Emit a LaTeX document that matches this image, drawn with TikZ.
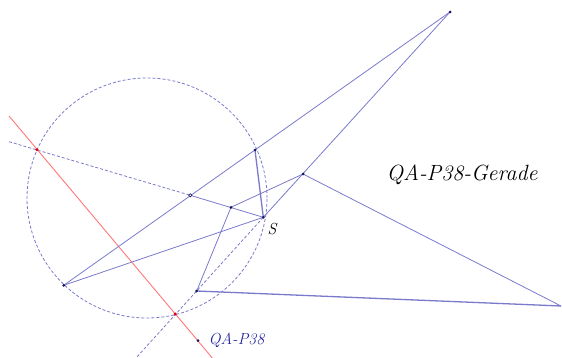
\documentclass[tikz,border=0pt]{standalone}
\usepackage{fontspec}
\begin{document}
\definecolor{ln}{RGB}{122,122,204}
\definecolor{rd}{RGB}{255,120,120}
\definecolor{pt}{RGB}{20,20,90}
\definecolor{lbl}{RGB}{40,40,160}
\begin{tikzpicture}[x=1pt,y=1pt,
  seg/.style={draw=ln,line width=0.8pt},
  thick seg/.style={draw=ln,line width=1.3pt},
  dseg/.style={draw=ln,line width=0.8pt,dash pattern=on 3pt off 2pt},
  redline/.style={draw=rd,line width=0.9pt},
  dot/.style={circle,fill=pt,inner sep=0pt,minimum size=3pt},
  odot/.style={circle,draw=pt,fill=white,line width=0.6pt,inner sep=0pt,minimum size=3.2pt},
  rdot/.style={circle,fill=red!85!black,inner sep=0pt,minimum size=3.2pt},
  lab/.style={font=\itshape}]
\useasboundingbox (0,0) rectangle (562,-358);
\coordinate (A) at (450,-12);
\coordinate (B) at (255,-150);
\coordinate (C) at (303,-174);
\coordinate (S) at (263.3,-217.3);
\coordinate (D) at (231,-207.3);
\coordinate (E) at (190.3,-195.3);
\coordinate (F) at (63.7,-285.3);
\coordinate (G) at (196.7,-291);
\coordinate (H) at (561,-306);
\coordinate (R1) at (37,-149.7);
\coordinate (R2) at (175.3,-314);
\coordinate (Q) at (198,-340.7);
\coordinate (O) at (147,-198);
\coordinate (Lb) at (136,-358);
\coordinate (Ll) at (9,-141.7);
\coordinate (Rt) at (9,-116);
\coordinate (Rb) at (212.3,-358);
% circle
\draw[dseg] (O) circle[radius=120];
% dashed extensions
\draw[dseg] (S) -- (Lb);
\draw[dseg] (Ll) -- (E);
% red line
\draw[redline] (Rt) -- (Rb);
% solid lines
\draw[seg] (F) -- (A);
\draw[seg] (A) -- (S);
\draw[seg] (E) -- (S);
\draw[seg] (F) -- (S);
\draw[thick seg] (B) -- (S);
\draw[seg] (D) -- (C);
\draw[seg] (D) -- (G);
\draw[seg] (C) -- (H);
\draw[thick seg] (G) -- (H);
% points
\foreach \p in {A,B,C,S,D,F,G,Q} \node[dot] at (\p) {};
\node[odot] (e) at (E) {};
\node[rdot] (r1) at (R1) {};
\node[rdot] (r2) at (R2) {};
% labels
\node[lab,font=\itshape\fontsize{16}{18}\selectfont] (ls) at (272,-229) {S};
\node[lab,font=\itshape\fontsize{22}{24}\selectfont,anchor=west] (lg) at (383,-175) {QA-P38-Gerade};
\node[lab,text=lbl,font=\itshape\fontsize{16}{18}\selectfont,anchor=west] (lq) at (205,-340) {QA-P38};
\end{tikzpicture}
\end{document}
